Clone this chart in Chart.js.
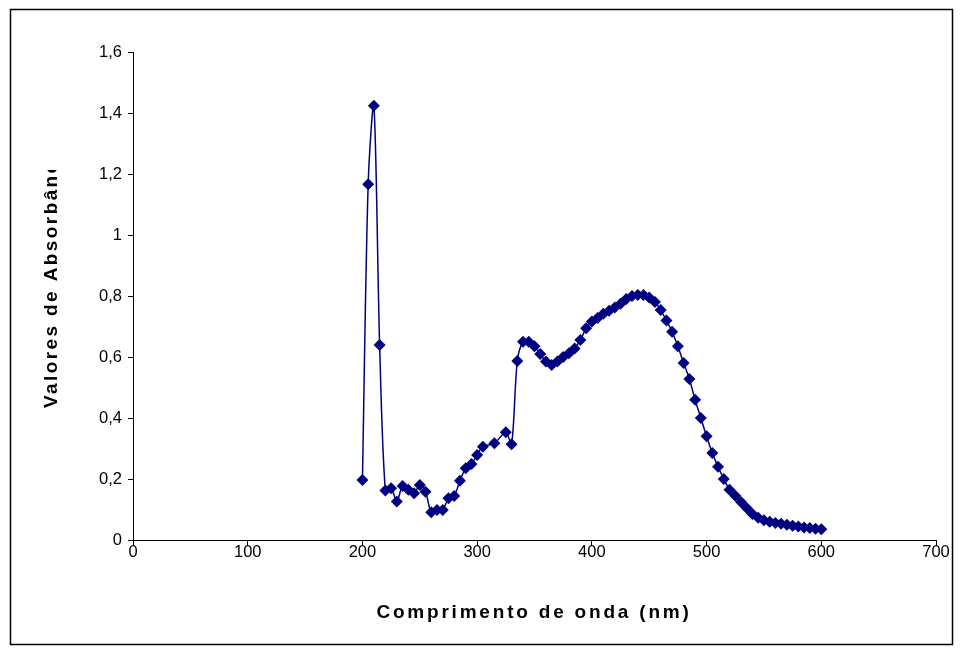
<!DOCTYPE html>
<html>
<head>
<meta charset="utf-8">
<script src="https://cdn.jsdelivr.net/npm/chart.js@4"></script>
<style>
  html, body { margin: 0; padding: 0; background: #fff; }
  #wrap { width: 963px; height: 655px; position: relative; }
</style>
</head>
<body>
<div id="wrap"><canvas id="spectrumChart"></canvas></div>
<script>
// wavelength (nm) and absorbance
const wavelengths = [200, 205, 210, 215, 220, 225, 230, 235, 240, 245, 250, 255, 260, 265, 270, 275, 280, 285, 290, 295,
  300, 305, 315, 325, 330, 335, 340, 345, 350, 355, 360, 365, 370, 375, 380, 385, 390, 395, 400, 405,
  410, 415, 420, 425, 430, 435, 440, 445, 450, 455, 460, 465, 470, 475, 480, 485, 490, 495, 500, 505,
  510, 515, 520, 525, 530, 535, 540, 545, 550, 555, 560, 565, 570, 575, 580, 585, 590, 595, 600];
const absorbance = [0.197, 1.166, 1.424, 0.639, 0.162, 0.170, 0.126, 0.177, 0.165, 0.153, 0.180, 0.158, 0.091, 0.098, 0.098, 0.137, 0.144, 0.194, 0.235, 0.249,
  0.279, 0.306, 0.317, 0.353, 0.314, 0.587, 0.650, 0.650, 0.635, 0.610, 0.585, 0.574, 0.585, 0.600, 0.612, 0.628, 0.656, 0.694, 0.716, 0.728,
  0.742, 0.752, 0.762, 0.775, 0.790, 0.800, 0.803, 0.803, 0.795, 0.780, 0.754, 0.720, 0.683, 0.635, 0.580, 0.528, 0.460, 0.400, 0.340, 0.285,
  0.240, 0.200, 0.165, 0.145, 0.125, 0.105, 0.085, 0.073, 0.065, 0.060, 0.056, 0.053, 0.050, 0.047, 0.044, 0.041, 0.039, 0.037, 0.035];

const xTitle = 'Comprimento de onda (nm)';
const yTitle = 'Valores de Absorbância';

const points = wavelengths.map((w, i) => ({ x: w, y: absorbance[i] }));
const FONT = '"Liberation Sans", Arial, sans-serif';

// outer frame and the axis titles (spaced out, y one clipped like the original sheet)
const framePlugin = {
  id: 'frame',
  afterDraw(chart) {
    const ctx = chart.ctx;
    ctx.save();
    ctx.strokeStyle = '#000';
    ctx.lineWidth = 1.5;
    ctx.strokeRect(10.5, 9.5, 942, 635);

    ctx.fillStyle = '#000';
    ctx.font = 'bold 19px ' + FONT;
    ctx.letterSpacing = '2.8px';
    ctx.textAlign = 'center';
    ctx.textBaseline = 'middle';
    ctx.fillText(xTitle, 534, 613);

    ctx.beginPath();
    ctx.rect(30, 170, 50, 300);
    ctx.clip();
    ctx.translate(52, 408);
    ctx.rotate(-Math.PI / 2);
    ctx.letterSpacing = '2.4px';
    ctx.textAlign = 'left';
    ctx.fillText(yTitle, 0, 0);
    ctx.restore();
  }
};

const ctx = document.getElementById('spectrumChart').getContext('2d');
new Chart(ctx, {
  type: 'scatter',
  data: {
    datasets: [{
      data: points,
      showLine: true,
      borderColor: '#000080',
      backgroundColor: '#000080',
      borderWidth: 1.5,
      tension: 0.3,
      pointStyle: 'rectRot',
      pointRadius: 6,
      pointHoverRadius: 6,
      pointBorderWidth: 0
    }]
  },
  options: {
    responsive: true,
    maintainAspectRatio: false,
    animation: false,
    layout: { padding: { left: 73, right: 27, top: 52, bottom: 85 } },
    plugins: {
      legend: { display: false },
      tooltip: { enabled: false }
    },
    scales: {
      x: {
        type: 'linear',
        min: 0,
        max: 700,
        afterFit: s => { s.height = 30; },
        border: { color: '#000', width: 1 },
        grid: { drawOnChartArea: false, color: '#000', tickLength: 6 },
        ticks: {
          stepSize: 100,
          color: '#000',
          padding: -3,
          font: { family: FONT, size: 16.5 }
        }
      },
      y: {
        min: 0,
        max: 1.6,
        afterFit: s => { s.width = 60; },
        border: { color: '#000', width: 1 },
        grid: { drawOnChartArea: false, color: '#000', tickLength: 5 },
        ticks: {
          stepSize: 0.2,
          color: '#000',
          padding: 6,
          font: { family: FONT, size: 16.5 },
          callback: v => String(Number(v.toFixed(1))).replace('.', ',')
        }
      }
    }
  },
  plugins: [framePlugin]
});
</script>
</body>
</html>
